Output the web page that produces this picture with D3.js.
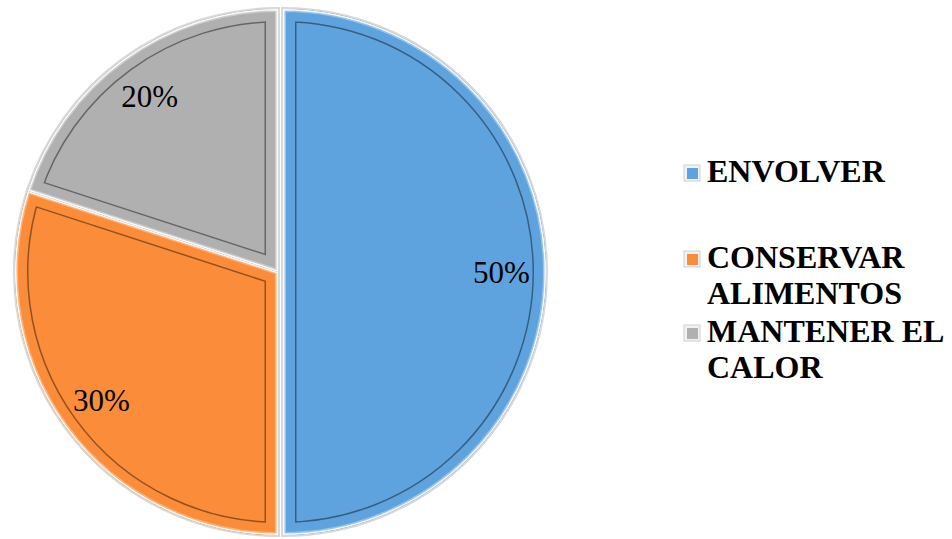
<!DOCTYPE html>
<html><head><meta charset="utf-8">
<script src="https://cdn.jsdelivr.net/npm/d3@7"></script>
<style>html,body{margin:0;padding:0;background:#fff;}
text{font-family:"Liberation Serif","Tinos","Times New Roman","DejaVu Serif",serif;}</style>
</head><body>
<svg id="chart" width="952" height="539"></svg>
<script>
const categories = ["ENVOLVER", "CONSERVAR ALIMENTOS", "MANTENER EL CALOR"];
const legendLines = [["ENVOLVER"], ["CONSERVAR", "ALIMENTOS"], ["MANTENER EL", "CALOR"]];
const values = [50, 30, 20];
const valueLabels = ["50%", "30%", "20%"];
const colors = ["#5fa3de", "#fb8c3a", "#b0b0b0"];
const explode = [5, 0, 0];

const svg = d3.select("#chart");
const cx = 278, cy = 272, R = 263;

const pie = d3.pie().sort(null).value(d => d)(values);
const arc = d3.arc().innerRadius(0).outerRadius(R);
const defs = svg.append("defs");

const g = svg.append("g").attr("transform", `translate(${cx},${cy})`);

pie.forEach((p, i) => {
  const mid = (p.startAngle + p.endAngle) / 2;
  const ox = Math.sin(mid) * explode[i], oy = -Math.cos(mid) * explode[i];
  const sg = g.append("g").attr("transform", `translate(${ox},${oy})`);
  const d = arc(p);
  defs.append("clipPath").attr("id", "clip" + i).append("path").attr("d", d)
    .attr("transform", `translate(${cx+ox},${cy+oy})`);
  sg.append("path").attr("d", d).attr("fill", "none").attr("stroke", "#d9d9d9").attr("stroke-width", 4);
  sg.append("path").attr("d", d).attr("fill", colors[i]);
  const inner = svg.append("g").attr("clip-path", `url(#clip${i})`)
    .append("g").attr("transform", `translate(${cx+ox},${cy+oy})`);
  inner.append("path").attr("d", d).attr("fill", "none").attr("stroke", "rgba(0,0,0,0.42)").attr("stroke-width", 27);
  inner.append("path").attr("d", d).attr("fill", "none").attr("stroke", colors[i]).attr("stroke-width", 24);
  inner.append("path").attr("d", d).attr("fill", "none").attr("stroke", "rgba(255,255,255,0.35)").attr("stroke-width", 6);
  inner.append("path").attr("d", d).attr("fill", "none").attr("stroke", "rgba(255,255,255,0.9)").attr("stroke-width", 3);
});

pie.forEach((p, i) => {
  const mid = (p.startAngle + p.endAngle) / 2;
  const rr = R * 0.83 + explode[i];
  svg.append("text")
    .attr("x", cx + Math.sin(mid) * rr)
    .attr("y", cy - Math.cos(mid) * rr)
    .attr("dy", "0.36em")
    .attr("text-anchor", "middle")
    .attr("font-size", 31)
    .attr("fill", "#000")
    .text(valueLabels[i]);
});

const legendBase = [182, 268, 342];
const lg = svg.append("g");
categories.forEach((c, i) => {
  const y = legendBase[i];
  lg.append("rect").attr("x", 684).attr("y", y - 17).attr("width", 16).attr("height", 16)
    .attr("fill", "#f2f2f2").attr("stroke", "#cfcfcf").attr("stroke-width", 1);
  lg.append("rect").attr("x", 687).attr("y", y - 14).attr("width", 11).attr("height", 11)
    .attr("fill", colors[i]);
  legendLines[i].forEach((t, j) => {
    lg.append("text").attr("x", 707).attr("y", y + j * 36)
      .attr("font-weight", "bold").attr("font-size", 32).attr("fill", "#000")
      .text(t);
  });
});
</script>
</body></html>
